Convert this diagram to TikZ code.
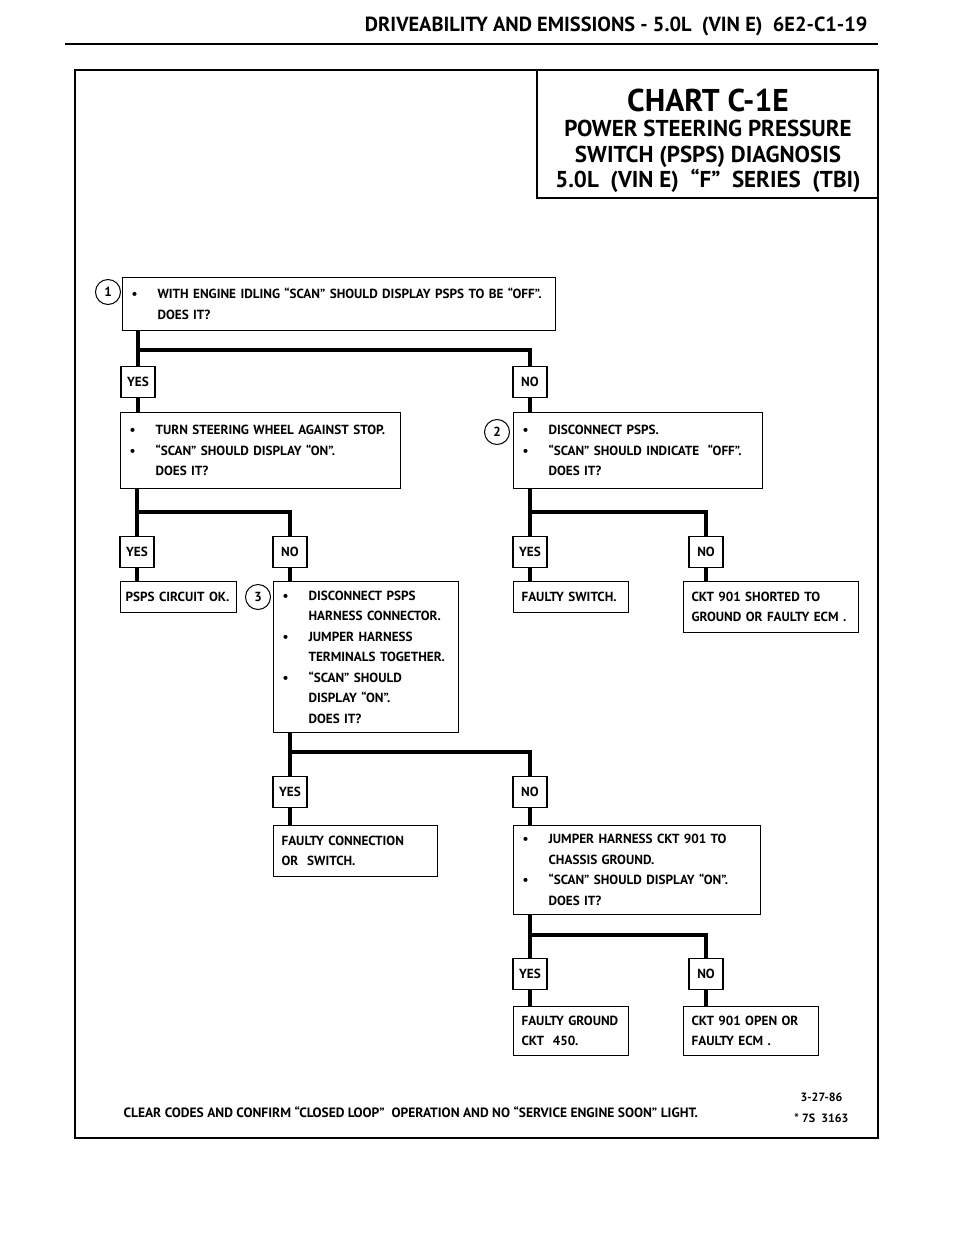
\documentclass[tikz,border=0pt]{standalone}
\usepackage{fontspec}
\setmainfont{PT Sans}
\usetikzlibrary{calc}

\newcommand{\bodyfont}{\fontsize{13.2}{20.5}\selectfont\bfseries}
\newcommand{\bul}{\makebox[27pt][l]{\hspace*{1pt}\textbullet}}
\newcommand{\nob}{\hspace*{27pt}}

\tikzset{
  box/.style={draw, line width=1.1pt, anchor=north west, inner xsep=8pt, inner ysep=0pt, align=left, font=\bodyfont},
  ans/.style={draw, line width=1.1pt, minimum width=34pt, minimum height=31pt, inner sep=0pt, font=\bodyfont},
  num/.style={circle, draw, line width=1pt, minimum size=25pt, inner sep=0pt, font=\bodyfont},
  flow/.style={line width=4pt},
  frame/.style={line width=2.4pt}
}

\begin{document}
\begin{tikzpicture}[x=1pt,y=-1pt]
  \useasboundingbox (0,0) rectangle (960,1242);

  % page header
  \node[anchor=base east, font=\fontsize{20.4}{22}\selectfont\bfseries] (hdr) at (871,31) {DRIVEABILITY AND EMISSIONS - 5.0L \ (VIN E) \ 6E2-C1-19};
  \draw [line width=2pt] (65,44) -- (878,44);

  % chart outline and title
  \draw [frame] (75,70) rectangle (878,1138);
  \draw [frame] (537,70) |- (878,198);
  \node[align=center, font=\fontsize{23}{25.5}\selectfont\bfseries] (title) at (708,141)
    {{\fontsize{31.5}{30}\selectfont CHART C-1E}\\POWER STEERING PRESSURE\\SWITCH (PSPS) DIAGNOSIS\\5.0L \ (VIN E) \ “F” \ SERIES \ (TBI)};

  % step 1
  \node[box, text width=417pt, minimum height=53pt] (q1) at (122,277) {\bul WITH ENGINE IDLING “SCAN” SHOULD DISPLAY PSPS TO BE “OFF”.\\\nob DOES IT?};
  \node[num] (c1) at (108,292) {1};
  \coordinate (b1) at (0,350);
  \node[ans] (y1) at (138,382) {YES};
  \node[ans] (n1) at (530,382) {NO};

  % steering wheel check
  \node[box, text width=264pt, minimum height=76pt] (q2) at (120,412) {\bul TURN STEERING WHEEL AGAINST STOP.\\\bul “SCAN” SHOULD DISPLAY “ON”.\\\nob DOES IT?};
  \coordinate (b2) at (0,512);
  \node[ans] (y2) at (137,552) {YES};
  \node[ans] (n2) at (290,552) {NO};

  % step 2
  \node[box, text width=233pt, minimum height=76pt] (q3) at (513,412) {\bul DISCONNECT PSPS.\\\bul “SCAN” SHOULD INDICATE \ “OFF”.\\\nob DOES IT?};
  \node[num] (c2) at (497,432) {2};
  \node[ans] (y3) at (530,552) {YES};
  \node[ans] (n3) at (706,552) {NO};

  % results of the second row
  \node[box, inner xsep=5pt, text width=106pt, minimum height=31pt] (r1) at (120,581) {PSPS CIRCUIT OK.};
  \node[box, text width=99pt, minimum height=31pt] (r2) at (513,581) {FAULTY SWITCH.};
  \node[box, text width=159pt, minimum height=51pt] (r3) at (683,581) {CKT 901 SHORTED TO\\GROUND OR FAULTY ECM .};

  % step 3
  \node[box, text width=169pt, minimum height=151pt] (q4) at (273,581) {\bul DISCONNECT PSPS\\\nob HARNESS CONNECTOR.\\\bul JUMPER HARNESS\\\nob TERMINALS TOGETHER.\\\bul “SCAN” SHOULD\\\nob DISPLAY “ON”.\\\nob DOES IT?};
  \node[num] (c3) at (258,597) {3};
  \coordinate (b4) at (0,752);
  \node[ans] (y4) at (290,792) {YES};
  \node[ans] (n4) at (530,792) {NO};

  \node[box, text width=148pt, minimum height=51pt] (r4) at (273,825) {FAULTY CONNECTION\\OR \ SWITCH.};
  \node[box, text width=231pt, minimum height=89pt] (q5) at (513,825) {\bul JUMPER HARNESS CKT 901 TO\\\nob CHASSIS GROUND.\\\bul “SCAN” SHOULD DISPLAY “ON”.\\\nob DOES IT?};
  \coordinate (b5) at (0,935);
  \node[ans] (y5) at (530,974) {YES};
  \node[ans] (n5) at (706,974) {NO};

  \node[box, text width=99pt, minimum height=49pt] (r5) at (513,1006) {FAULTY GROUND\\CKT \ 450.};
  \node[box, text width=119pt, minimum height=49pt] (r6) at (683,1006) {CKT 901 OPEN OR\\FAULTY ECM .};

  % connectors
  \draw [flow] (q1.south -| y1) -- (y1.north);
  \draw [flow] (y1 |- b1) -| (n1.north);
  \draw [flow] (y1.south) -- (y1.south |- q2.north);
  \draw [flow] (n1.south) -- (n1.south |- q3.north);

  \draw [flow] (q2.south -| y2) -- (y2.north);
  \draw [flow] (y2 |- b2) -| (n2.north);
  \draw [flow] (y2.south) -- (y2.south |- r1.north);
  \draw [flow] (n2.south) -- (n2.south |- q4.north);

  \draw [flow] (q3.south -| y3) -- (y3.north);
  \draw [flow] (y3 |- b2) -| (n3.north);
  \draw [flow] (y3.south) -- (y3.south |- r2.north);
  \draw [flow] (n3.south) -- (n3.south |- r3.north);

  \draw [flow] (q4.south -| y4) -- (y4.north);
  \draw [flow] (y4 |- b4) -| (n4.north);
  \draw [flow] (y4.south) -- (y4.south |- r4.north);
  \draw [flow] (n4.south) -- (n4.south |- q5.north);

  \draw [flow] (q5.south -| y5) -- (y5.north);
  \draw [flow] (y5 |- b5) -| (n5.north);
  \draw [flow] (y5.south) -- (y5.south |- r5.north);
  \draw [flow] (n5.south) -- (n5.south |- r6.north);

  % footer
  \node[anchor=base west, font=\fontsize{13.5}{14}\selectfont\bfseries] (note) at (120,1117) {CLEAR CODES AND CONFIRM “CLOSED LOOP” \ OPERATION AND NO “SERVICE ENGINE SOON” LIGHT.};
  \node[anchor=base east, font=\fontsize{12}{14}\selectfont\bfseries] (date) at (846,1101) {3-27-86};
  \node[anchor=base east, font=\fontsize{12}{14}\selectfont\bfseries] (code) at (852,1122) {* 7S \ 3163};

\end{tikzpicture}
\end{document}
